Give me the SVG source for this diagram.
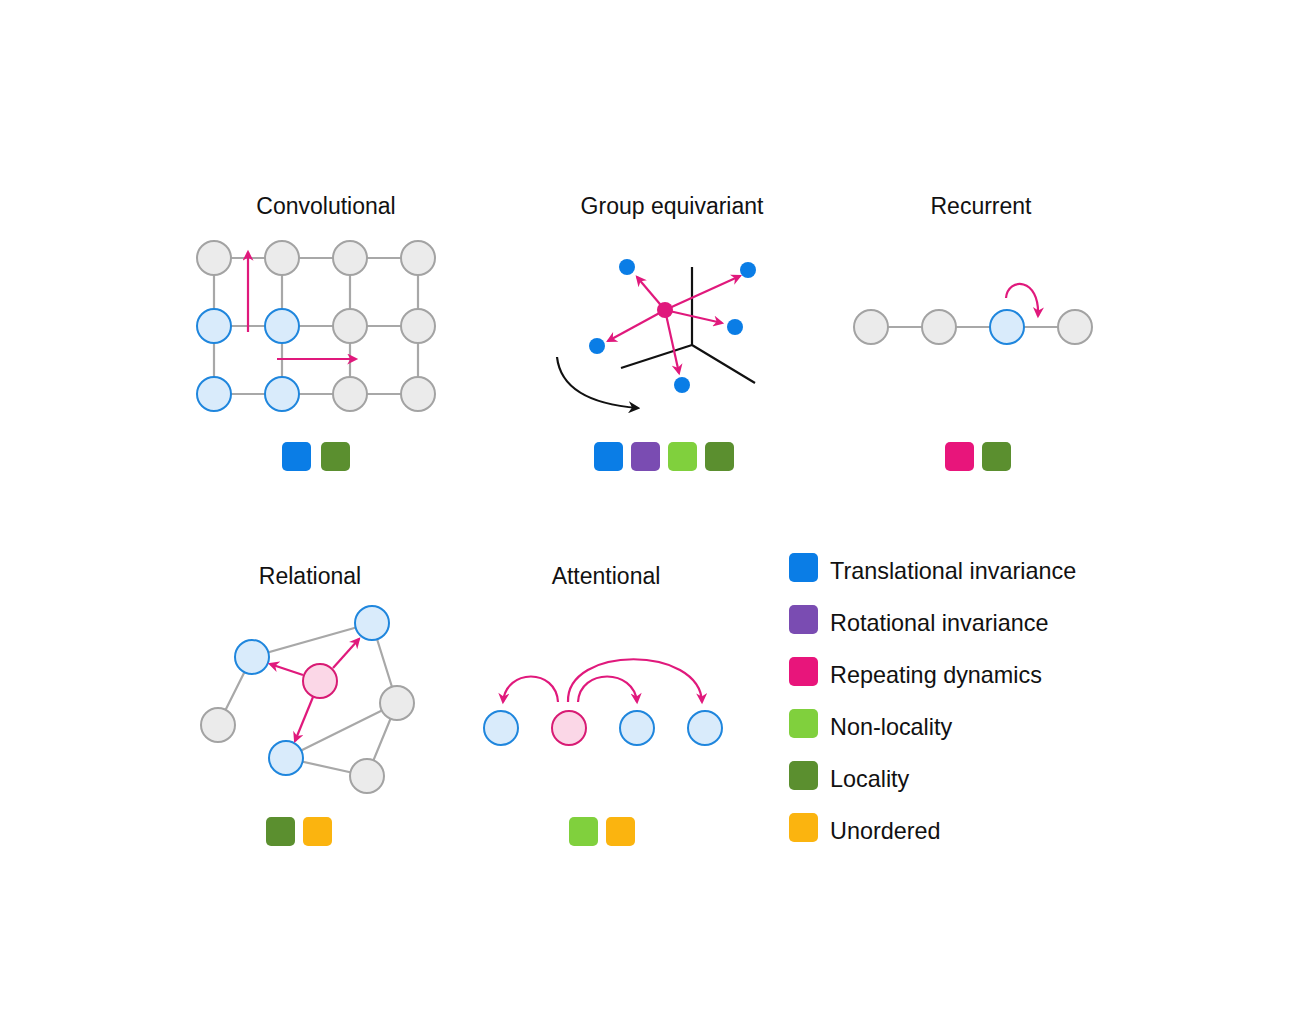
<svg xmlns="http://www.w3.org/2000/svg" width="1302" height="1012" viewBox="0 0 1302 1012">
<style>
text{font-family:"Liberation Sans",Arial,sans-serif;fill:#111}
.t{font-size:23px;text-anchor:middle}
.l{font-size:23.4px}
.g{fill:#ebebeb;stroke:#a3a3a3;stroke-width:2}
.b{fill:#d9ebfb;stroke:#1f86dd;stroke-width:2}
.p{fill:#fbd7e7;stroke:#d81b74;stroke-width:2}
.e{stroke:#a8a8a8;stroke-width:2.2;fill:none}
.a{stroke:#e0197c;stroke-width:2.2;fill:none;marker-end:url(#ah)}
.k{stroke:#111;stroke-width:2.2;fill:none}
.dot{fill:#0a7de6}
</style>
<defs>
<marker id="ah" viewBox="0 0 10 10" refX="8" refY="5" markerWidth="12" markerHeight="11" orient="auto" markerUnits="userSpaceOnUse">
<path d="M0,0 L10,5 L0,10 L3,5 Z" fill="#e0197c"/>
</marker>
<marker id="ak" viewBox="0 0 10 10" refX="8" refY="5" markerWidth="12" markerHeight="12" orient="auto" markerUnits="userSpaceOnUse">
<path d="M0,0 L10,5 L0,10 L3,5 Z" fill="#111"/>
</marker>
</defs>
<rect width="1302" height="1012" fill="#fff"/>

<g id="titles">
<text class="t" x="326" y="214">Convolutional</text>
<text class="t" x="672" y="214">Group equivariant</text>
<text class="t" x="981" y="214">Recurrent</text>
<text class="t" x="310" y="584">Relational</text>
<text class="t" x="606" y="584">Attentional</text>
</g>

<g id="connectors">
<path class="e" d="M214,258H418M214,326H418M214,394H418M214,258V394M282,258V394M350,258V394M418,258V394"/>
<path class="e" d="M871,327H1075"/>
<path class="e" d="M252,657L372,623M252,657L218,725M372,623L397,703M397,703L286,758M397,703L367,776M286,758L367,776"/>
</g>

<g id="convolutional">
<circle class="g" cx="214" cy="258" r="17"/><circle class="g" cx="282" cy="258" r="17"/><circle class="g" cx="350" cy="258" r="17"/><circle class="g" cx="418" cy="258" r="17"/>
<circle class="b" cx="214" cy="326" r="17"/><circle class="b" cx="282" cy="326" r="17"/><circle class="g" cx="350" cy="326" r="17"/><circle class="g" cx="418" cy="326" r="17"/>
<circle class="b" cx="214" cy="394" r="17"/><circle class="b" cx="282" cy="394" r="17"/><circle class="g" cx="350" cy="394" r="17"/><circle class="g" cx="418" cy="394" r="17"/>
<path class="a" d="M248,332V252"/>
<path class="a" d="M277,359H356"/>
<rect x="282" y="442" width="29" height="29" rx="5" fill="#0a7de6"/>
<rect x="321" y="442" width="29" height="29" rx="5" fill="#5b8f2f"/>
</g>

<g id="group-equivariant">
<path class="k" d="M692,267V345M692,345L621,368M692,345L755,383"/>
<path class="k" d="M557,357Q562,402 638,408" marker-end="url(#ak)"/>
<circle class="dot" cx="627" cy="267" r="8"/>
<circle class="dot" cx="748" cy="270" r="8"/>
<circle class="dot" cx="735" cy="327" r="8"/>
<circle class="dot" cx="597" cy="346" r="8"/>
<circle class="dot" cx="682" cy="385" r="8"/>
<path class="a" d="M665,310L637,277"/>
<path class="a" d="M665,310L740,276"/>
<path class="a" d="M665,310L722,323"/>
<path class="a" d="M665,310L608,341"/>
<path class="a" d="M665,310L679,373"/>
<circle cx="665" cy="310" r="8" fill="#e0197c"/>
<rect x="594" y="442" width="29" height="29" rx="5" fill="#0a7de6"/>
<rect x="631" y="442" width="29" height="29" rx="5" fill="#7a4cb2"/>
<rect x="668" y="442" width="29" height="29" rx="5" fill="#80d03d"/>
<rect x="705" y="442" width="29" height="29" rx="5" fill="#5b8f2f"/>
</g>

<g id="recurrent">
<circle class="g" cx="871" cy="327" r="17"/>
<circle class="g" cx="939" cy="327" r="17"/>
<circle class="b" cx="1007" cy="327" r="17"/>
<circle class="g" cx="1075" cy="327" r="17"/>
<path class="a" d="M1006,298C1008,277 1040,277 1038,316"/>
<rect x="945" y="442" width="29" height="29" rx="5" fill="#e8157b"/>
<rect x="982" y="442" width="29" height="29" rx="5" fill="#5b8f2f"/>
</g>

<g id="relational">
<circle class="b" cx="252" cy="657" r="17"/>
<circle class="b" cx="372" cy="623" r="17"/>
<circle class="g" cx="397" cy="703" r="17"/>
<circle class="g" cx="218" cy="725" r="17"/>
<circle class="b" cx="286" cy="758" r="17"/>
<circle class="g" cx="367" cy="776" r="17"/>
<circle class="p" cx="320" cy="681" r="17"/>
<path class="a" d="M303,675L270,664"/>
<path class="a" d="M333,668L359,639"/>
<path class="a" d="M313,697L295,741"/>
<rect x="266" y="817" width="29" height="29" rx="5" fill="#5b8f2f"/>
<rect x="303" y="817" width="29" height="29" rx="5" fill="#fbb40f"/>
</g>

<g id="attentional">
<circle class="b" cx="501" cy="728" r="17"/>
<circle class="p" cx="569" cy="728" r="17"/>
<circle class="b" cx="637" cy="728" r="17"/>
<circle class="b" cx="705" cy="728" r="17"/>
<path class="a" d="M558,702C556,668 506,668 503,702"/>
<path class="a" d="M578,702C580,668 634,668 637,702"/>
<path class="a" d="M568,702C566,645 700,645 702,702"/>
<rect x="569" y="817" width="29" height="29" rx="5" fill="#80d03d"/>
<rect x="606" y="817" width="29" height="29" rx="5" fill="#fbb40f"/>
</g>

<g id="legend">
<rect x="789" y="553" width="29" height="29" rx="5" fill="#0a7de6"/>
<text class="l" x="830" y="579">Translational invariance</text>
<rect x="789" y="605" width="29" height="29" rx="5" fill="#7a4cb2"/>
<text class="l" x="830" y="631">Rotational invariance</text>
<rect x="789" y="657" width="29" height="29" rx="5" fill="#e8157b"/>
<text class="l" x="830" y="683">Repeating dynamics</text>
<rect x="789" y="709" width="29" height="29" rx="5" fill="#80d03d"/>
<text class="l" x="830" y="735">Non-locality</text>
<rect x="789" y="761" width="29" height="29" rx="5" fill="#5b8f2f"/>
<text class="l" x="830" y="787">Locality</text>
<rect x="789" y="813" width="29" height="29" rx="5" fill="#fbb40f"/>
<text class="l" x="830" y="839">Unordered</text>
</g>
</svg>
